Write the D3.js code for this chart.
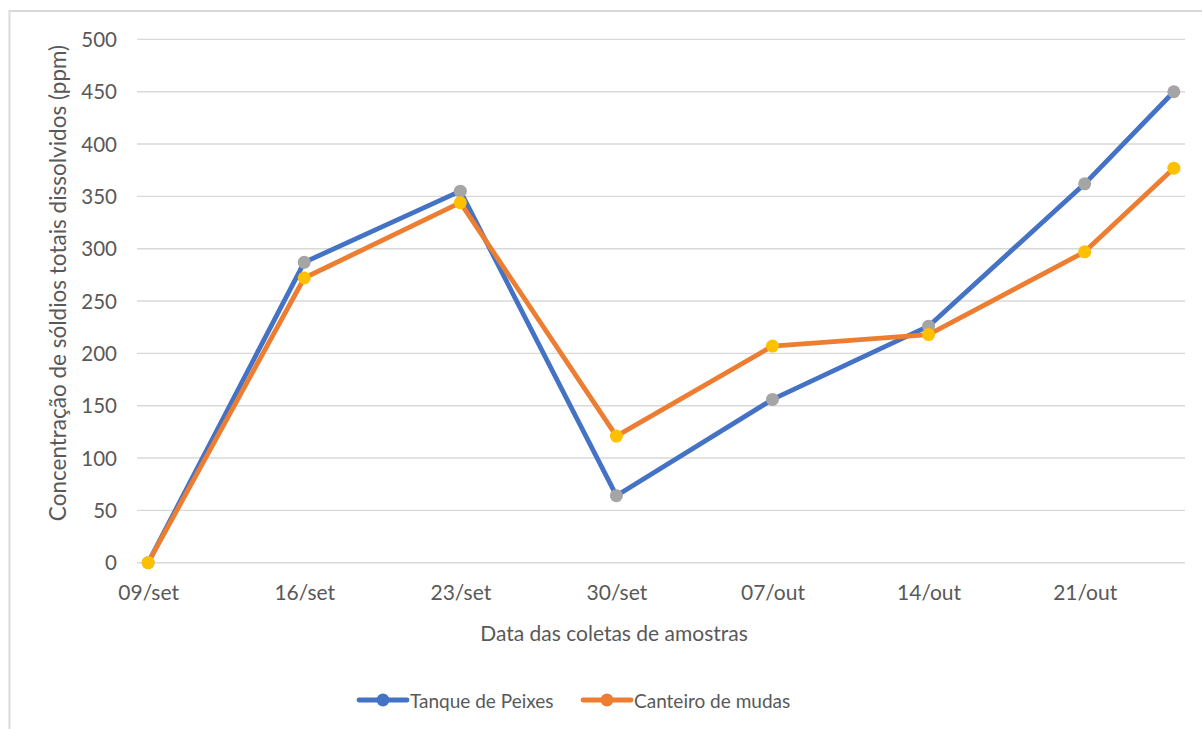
<!DOCTYPE html>
<html>
<head>
<meta charset="utf-8">
<script src="https://cdn.jsdelivr.net/npm/d3@7"></script>
<style>
  html, body { margin: 0; padding: 0; background: #fff; }
  svg { display: block; }
  text { font-family: Lato, "Open Sans", sans-serif; fill: #595959; }
</style>
</head>
<body>
<svg id="chart" width="1202" height="729"></svg>
<script>
// Sampling dates and dissolved-solids readings in ppm
const sampleDates = ["2021-09-09", "2021-09-16", "2021-09-23", "2021-09-30",
                     "2021-10-07", "2021-10-14", "2021-10-21", "2021-10-25"];
const tanquePeixes = [0, 287, 355, 64, 156, 226, 362, 450];
const canteiroMudas = [0, 272, 344, 121, 207, 218, 297, 377];
const yTicks = [0, 50, 100, 150, 200, 250, 300, 350, 400, 450, 500];
const monthAbbr = ["jan", "fev", "mar", "abr", "mai", "jun", "jul", "ago", "set", "out", "nov", "dez"];

const series = [
  { name: "Tanque de Peixes", values: tanquePeixes, line: "#4472C4", marker: "#A5A5A5" },
  { name: "Canteiro de mudas", values: canteiroMudas, line: "#ED7D31", marker: "#FFC000" }
];

const svg = d3.select("#chart");
const parse = d3.utcParse("%Y-%m-%d");
const dates = sampleDates.map(parse);
const halfDay = 12 * 3600 * 1000;

const plot = { left: 137, right: 1185, top: 39.4, bottom: 562.7 };

// Date axis with one slot per day; each point sits in the middle of its day
const x = d3.scaleUtc()
  .domain([new Date(+dates[0] - halfDay), new Date(+dates[dates.length - 1] + halfDay)])
  .range([plot.left, plot.right]);
const y = d3.scaleLinear().domain([0, 500]).range([plot.bottom, plot.top]);

// Chart frame
svg.append("rect")
  .attr("x", 9.5).attr("y", 11)
  .attr("width", 1202).attr("height", 740)
  .attr("fill", "none").attr("stroke", "#D9D9D9").attr("stroke-width", 2);

// Horizontal gridlines
svg.append("g")
  .selectAll("line")
  .data(yTicks)
  .join("line")
  .attr("x1", plot.left).attr("x2", plot.right)
  .attr("y1", d => y(d)).attr("y2", d => y(d))
  .attr("stroke", "#D9D9D9").attr("stroke-width", 1.4);

// Y axis labels
const yAxis = d3.axisLeft(y).tickValues(yTicks).tickSize(0).tickPadding(0);
const gy = svg.append("g").attr("transform", `translate(${plot.left - 20},0)`).call(yAxis);
gy.select(".domain").remove();
gy.selectAll("text").attr("font-size", 20.5).attr("font-family", null).attr("fill", null).attr("dy", "0.35em");

// X axis labels, one per week
const weekly = d3.utcDays(dates[0], new Date(+dates[dates.length - 1] + halfDay)).filter((d, i) => i % 7 === 0);
const fmt = d => d3.utcFormat("%d")(d) + "/" + monthAbbr[d.getUTCMonth()];
const xAxis = d3.axisBottom(x).tickValues(weekly).tickFormat(fmt).tickSize(0).tickPadding(0);
const gx = svg.append("g").attr("transform", `translate(0,${plot.bottom + 30})`).call(xAxis);
gx.select(".domain").remove();
gx.selectAll("text").attr("font-size", 21).attr("font-family", null).attr("fill", null).attr("dy", "0.35em");

// Axis titles
svg.append("text")
  .attr("x", 614).attr("y", 632)
  .attr("text-anchor", "middle").attr("dominant-baseline", "central")
  .attr("font-size", 21)
  .text("Data das coletas de amostras");

svg.append("text")
  .attr("transform", "translate(57,283) rotate(-90)")
  .attr("text-anchor", "middle").attr("dominant-baseline", "central")
  .attr("font-size", 22.5)
  .text("Concentração de sóldios totais dissolvidos (ppm)");

// Series lines and markers
const line = d3.line().x((d, i) => x(dates[i])).y(d => y(d));

series.forEach(s => {
  svg.append("path")
    .datum(s.values)
    .attr("d", line)
    .attr("fill", "none")
    .attr("stroke", s.line)
    .attr("stroke-width", 4.8)
    .attr("stroke-linejoin", "round")
    .attr("stroke-linecap", "round");
});

series.forEach(s => {
  svg.append("g")
    .selectAll("circle")
    .data(s.values)
    .join("circle")
    .attr("cx", (d, i) => x(dates[i]))
    .attr("cy", d => y(d))
    .attr("r", 6.5)
    .attr("fill", s.marker);
});

// Legend
const legendX = [359, 583];
const legend = svg.append("g").attr("transform", "translate(0,700)");
series.forEach((s, i) => {
  const g = legend.append("g").attr("transform", `translate(${legendX[i]},0)`);
  g.append("line")
    .attr("x1", 0).attr("x2", 48).attr("y1", 0).attr("y2", 0)
    .attr("stroke", s.line).attr("stroke-width", 4.8).attr("stroke-linecap", "round");
  g.append("circle").attr("cx", 24).attr("cy", 0).attr("r", 6.5).attr("fill", s.line);
  g.append("text")
    .attr("x", 51).attr("y", 0)
    .attr("dominant-baseline", "central")
    .attr("font-size", 19)
    .text(s.name);
});
</script>
</body>
</html>
